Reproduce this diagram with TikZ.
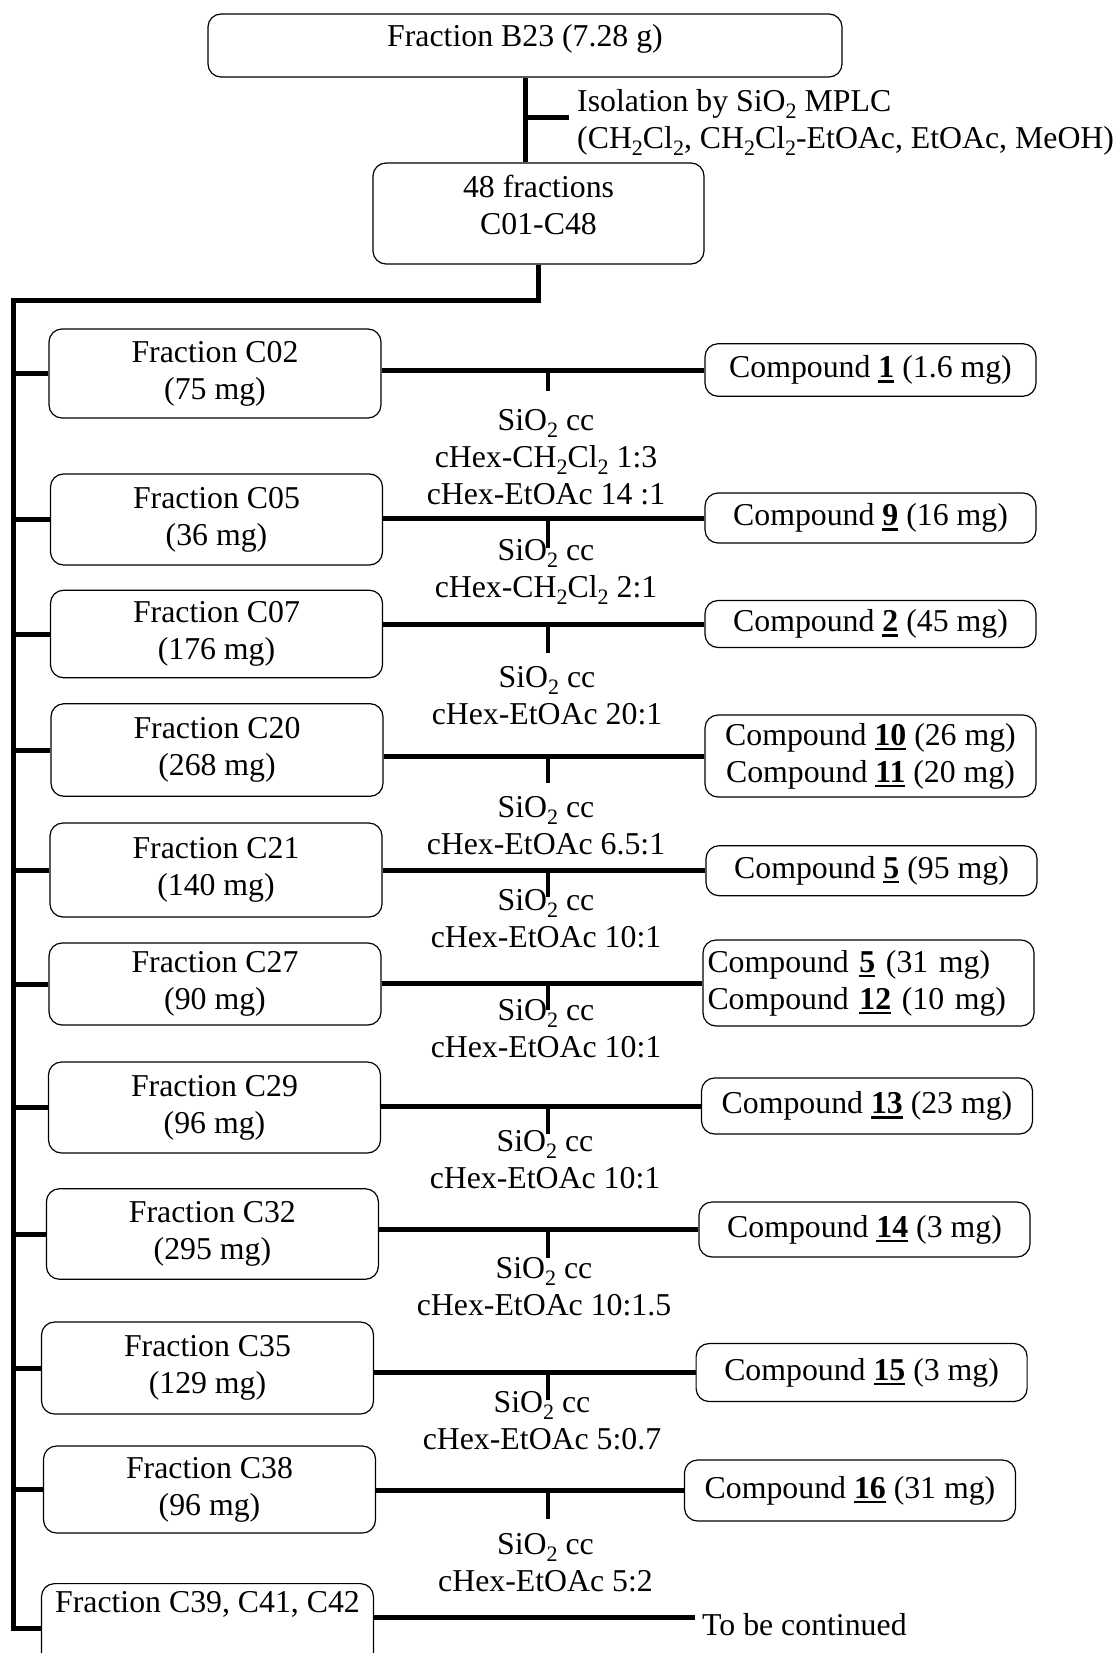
\documentclass[tikz,border=0pt]{standalone}
\usepackage{fontspec}
\setmainfont{Liberation Serif}
\newcommand\mysub[1]{\raisebox{-7pt}{\fontsize{22}{22}\selectfont #1}}
\newcommand\cpd[1]{\setbox0\hbox{\bfseries #1}\rlap{\rule[-5pt]{\wd0}{2.6pt}}\box0\relax}
\tikzset{
  box/.style={draw, line width=1.2pt, rounded corners=13pt, align=center, inner sep=0pt},
  fbox/.style={box, minimum width=332pt},
  cbox/.style={box, minimum width=331pt},
  bar/.style={line width=5pt},
  tickline/.style={line width=3.6pt},
  lab/.style={align=center, inner sep=0pt},
}
\begin{document}
\begin{tikzpicture}[x=1pt, y=-1pt, font=\fontsize{31.8}{37}\selectfont]
\useasboundingbox (0,0) rectangle (1118,1653);
\clip (0,0) rectangle (1118,1653);

% top part
\node[box, minimum width=634pt, minimum height=63pt, text height=33pt, text depth=30pt] (b23) at (525,45.5) {Fraction B23 (7.28 g)};
\node[box, minimum width=331pt, minimum height=101pt, text depth=18pt] (f48) at (538.5,213.5) {48 fractions\\C01-C48};
\coordinate (iso) at (569,118);
\coordinate (spine) at (13,300);
\draw[bar] (b23.south) -- (b23.south |- f48.north);
\draw[bar] (iso -| b23.south) -- (iso);
\node[lab, anchor=west, align=left, inner xsep=8pt, yshift=-4pt] (isolab) at (iso) {Isolation by SiO\mysub{2} MPLC\\(CH\mysub{2}Cl\mysub{2}, CH\mysub{2}Cl\mysub{2}-EtOAc, EtOAc, MeOH)};

% fraction boxes
\node[fbox, minimum height=89pt] (f02) at (215,373.5) {Fraction C02\\(75 mg)};
\node[fbox, minimum height=91pt] (f05) at (216.5,519.5) {Fraction C05\\(36 mg)};
\node[fbox, minimum height=87.5pt] (f07) at (216.5,634) {Fraction C07\\(176 mg)};
\node[fbox, minimum height=92.6pt] (f20) at (217,750) {Fraction C20\\(268 mg)};
\node[fbox, minimum height=94pt] (f21) at (216,870) {Fraction C21\\(140 mg)};
\node[fbox, minimum height=82pt] (f27) at (215,984) {Fraction C27\\(90 mg)};
\node[fbox, minimum height=91pt] (f29) at (214.5,1107.5) {Fraction C29\\(96 mg)};
\node[fbox, minimum height=90.5pt] (f32) at (212.4,1234) {Fraction C32\\(295 mg)};
\node[fbox, minimum height=92pt] (f35) at (207.5,1368) {Fraction C35\\(129 mg)};
\node[fbox, minimum height=87pt] (f38) at (209.5,1489.5) {Fraction C38\\(96 mg)};
\node[fbox, anchor=north, text height=29pt, text depth=61pt] (f39) at (207.5,1583) {Fraction C39, C41, C42};

% compound boxes
\node[cbox, minimum height=52.5pt] (c1) at (870.5,370) {Compound \cpd{1} (1.6 mg)};
\node[cbox, minimum height=50pt] (c9) at (870.5,518) {Compound \cpd{9} (16 mg)};
\node[cbox, minimum height=47pt] (c2) at (870.5,624) {Compound \cpd{2} (45 mg)};
\node[cbox, minimum height=82pt] (c1011) at (870.5,756) {Compound \cpd{10} (26 mg)\\Compound \cpd{11} (20 mg)};
\node[cbox, minimum height=50pt] (c5) at (871.5,870.7) {Compound \cpd{5} (95 mg)};
\node[cbox, minimum height=86pt, align=left, text width=322pt] (c512) at (868.5,983) {Compound \cpd{5} (31 mg)\\Compound \cpd{12} (10 mg)};
\node[cbox, minimum height=56pt] (c13) at (867,1106) {Compound \cpd{13} (23 mg)};
\node[cbox, minimum height=55pt] (c14) at (864.5,1229.5) {Compound \cpd{14} (3 mg)};
\node[cbox, minimum height=58pt] (c15) at (861.6,1372.5) {Compound \cpd{15} (3 mg)};
\node[cbox, minimum height=61pt] (c16) at (850,1490.5) {Compound \cpd{16} (31 mg)};

% spine
\draw[bar] (f48.south) |- (spine) -- (spine |- f39.west) -- (f39.west);
\foreach \f in {f02,f05,f07,f20,f21,f27,f29,f32,f35,f38}
  \draw[bar] (spine |- \f.west) -- (\f.west);

% connectors
\foreach \f/\c/\len in {f02/c1/21, f05/c9/30, f07/c2/29, f20/c1011/27, f21/c5/26, f27/c512/27, f29/c13/28, f32/c14/28, f35/c15/27, f38/c16/28}{
  \draw[bar] (\c.west -| \f.east) -- (\c.west);
  \draw[tickline] (\c.west -| 548,0) -- ++(0,\len);
}

% labels
\node[lab] (l02) at (546,457) {SiO\mysub{2} cc\\cHex-CH\mysub{2}Cl\mysub{2} 1:3\\cHex-EtOAc 14 :1};
\node[lab] (l05) at (546,571.5) {SiO\mysub{2} cc\\cHex-CH\mysub{2}Cl\mysub{2} 2:1};
\node[lab] (l07) at (547,695.5) {SiO\mysub{2} cc\\cHex-EtOAc 20:1};
\node[lab] (l20) at (546,826) {SiO\mysub{2} cc\\cHex-EtOAc 6.5:1};
\node[lab] (l21) at (546,919) {SiO\mysub{2} cc\\cHex-EtOAc 10:1};
\node[lab] (l27) at (546,1029) {SiO\mysub{2} cc\\cHex-EtOAc 10:1};
\node[lab] (l29) at (545,1160) {SiO\mysub{2} cc\\cHex-EtOAc 10:1};
\node[lab] (l32) at (544,1287) {SiO\mysub{2} cc\\cHex-EtOAc 10:1.5};
\node[lab] (l35) at (542,1421) {SiO\mysub{2} cc\\cHex-EtOAc 5:0.7};
\node[lab] (l38) at (545.5,1562.5) {SiO\mysub{2} cc\\cHex-EtOAc 5:2};

% to be continued
\coordinate (tbc) at (695,1617);
\draw[bar] (f39.east |- tbc) -- (tbc);
\node[anchor=west, inner xsep=7pt, inner ysep=0pt, yshift=-8pt] (tbct) at (tbc) {To be continued};
\end{tikzpicture}
\end{document}
